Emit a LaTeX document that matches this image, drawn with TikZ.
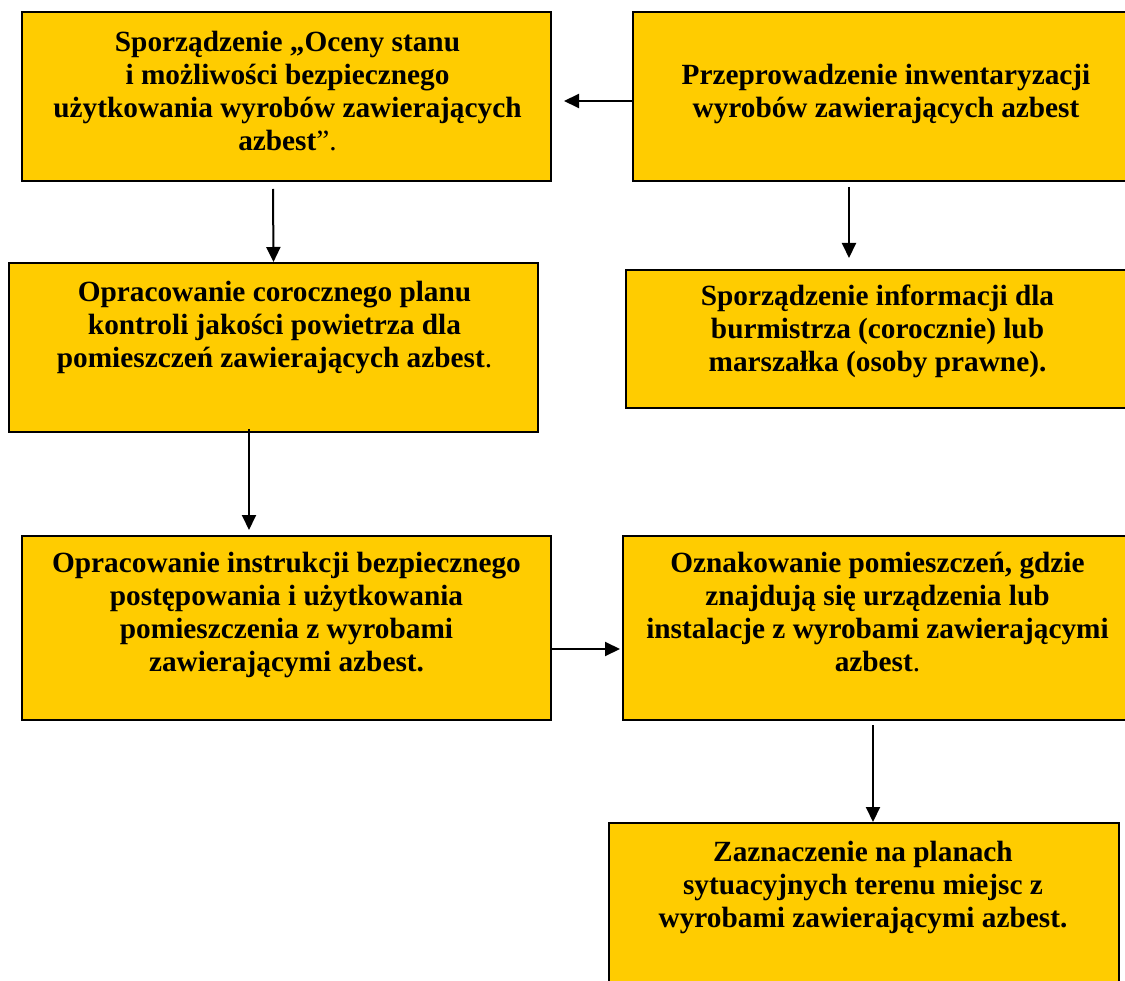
\documentclass[tikz,border=0pt]{standalone}
\usepackage{fontspec}
\setmainfont{Liberation Serif}
\usetikzlibrary{arrows.meta}
\definecolor{boxyellow}{RGB}{255,204,0}
\begin{document}
\begin{tikzpicture}[x=1pt,y=-1pt,
  box/.style={draw=black, line width=2pt, fill=boxyellow, inner sep=0pt, anchor=north west},
  txt/.style={font=\bfseries\fontsize{29.3}{33.3}\selectfont, align=center, anchor=north, inner sep=0pt},
  conn/.style={line width=2pt, -{Triangle[length=15pt,width=14pt]}}]
\useasboundingbox (0,0) rectangle (1125,981);
% boxes
\node[box, minimum width=529pt, minimum height=169pt] (b1) at (21,11) {};
\node[box, minimum width=503pt, minimum height=169pt] (b2) at (632,11) {};
\node[box, minimum width=529pt, minimum height=169pt] (b3) at (8,262) {};
\node[box, minimum width=510pt, minimum height=138pt] (b4) at (625,269) {};
\node[box, minimum width=529pt, minimum height=184pt] (b5) at (21,535) {};
\node[box, minimum width=513pt, minimum height=184pt] (b6) at (622,535) {};
\node[box, minimum width=510pt, minimum height=175pt] (b7) at (608,822) {};
% texts
\node[txt] (t1) at ([xshift=1pt,yshift=-19.5pt]b1.north) {Sporządzenie „Oceny stanu\\ i możliwości bezpiecznego\\ użytkowania wyrobów zawierających\\ azbest{\mdseries ”.}};
\node[txt] (t2) at ([xshift=1.5pt,yshift=-52.5pt]b2.north) {Przeprowadzenie inwentaryzacji\\ wyrobów zawierających azbest};
\node[txt] (t3) at ([xshift=1pt,yshift=-18.5pt]b3.north) {Opracowanie corocznego planu\\ kontroli jakości powietrza dla\\ pomieszczeń zawierających azbest{\mdseries .}};
\node[txt] (t4) at ([xshift=-3.5pt,yshift=-15.5pt]b4.north) {Sporządzenie informacji dla\\ burmistrza (corocznie) lub\\ marszałka (osoby prawne).};
\node[txt] (t5) at ([yshift=-16.5pt]b5.north) {Opracowanie instrukcji bezpiecznego\\ postępowania i użytkowania\\ pomieszczenia z wyrobami\\ zawierającymi azbest.};
\node[txt] (t6) at ([xshift=-2pt,yshift=-16.5pt]b6.north) {Oznakowanie pomieszczeń, gdzie\\ znajdują się urządzenia lub\\ instalacje z wyrobami zawierającymi\\ azbest{\mdseries .}};
\node[txt] (t7) at ([xshift=-1pt,yshift=-18.5pt]b7.north) {Zaznaczenie na planach\\ sytuacyjnych terenu miejsc z\\ wyrobami zawierającymi azbest.};
% connectors
\draw[conn] ([yshift=-4.5pt]b2.west) -- ([xshift=12pt,yshift=-4.5pt]b1.east);
\draw[conn] ([xshift=-13.5pt,yshift=-7pt]b1.south) -- (b3.north);
\draw[conn] ([xshift=-35.5pt,yshift=-5pt]b2.south) -- ([xshift=-32pt,yshift=11pt]b4.north);
\draw[conn] ([xshift=-24.5pt,yshift=4pt]b3.south) -- ([xshift=-37.5pt,yshift=5pt]b5.north);
\draw[conn] ([yshift=-21pt]b5.east) -- ([xshift=-2pt,yshift=-21pt]b6.west);
\draw[conn] ([xshift=-6.5pt,yshift=-4pt]b6.south) -- ([xshift=9pt]b7.north);
\end{tikzpicture}
\end{document}
